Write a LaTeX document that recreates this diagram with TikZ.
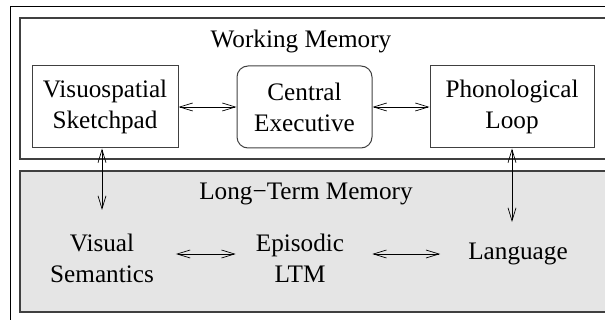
\documentclass[tikz,border=0pt]{standalone}
\usepackage{fontspec}
\setmainfont{Liberation Serif}
\usetikzlibrary{arrows.meta}
\begin{document}
\begin{tikzpicture}[x=1pt,y=-1pt,
  lbl/.style={font=\fontsize{25.2}{31}\selectfont, align=center, inner sep=0pt},
  wbox/.style={draw=black!75, line width=1pt, minimum height=82pt, inner sep=0pt, font=\fontsize{25.2}{31}\selectfont, align=center},
  frame/.style={draw=black!75, line width=1.2pt},
  arr/.style={{Straight Barb[length=13pt,width=8pt]}-{Straight Barb[length=13pt,width=8pt]}, line width=0.7pt, black}]
\useasboundingbox (0,0) rectangle (605,320);
\clip (0,0) rectangle (605,320);
\draw[black, line width=1pt] (10,7) rectangle (640,340);
\draw[frame] (20,18) rectangle (640,159);
\draw[frame, fill=black!10] (20,171) rectangle (640,312);
\node[lbl] (wm) at (301,41) {Working Memory};
\node[lbl] (ltm) at (306,194) {Long−Term Memory};
\node[wbox, minimum width=146pt] (vs) at (105,107) {Visuospatial\\Sketchpad};
\node[wbox, minimum width=135pt, rounded corners=11pt] (ce) at (304.5,107) {Central\\Executive};
\node[wbox, minimum width=164pt] (pl) at (512,107) {Phonological\\Loop};
\node[lbl] (vsem) at (102,258) {Visual\\Semantics};
\node[lbl] (epi) at (300,258) {Episodic\\LTM};
\node[lbl] (lang) at (518,254) {Language};
\coordinate (vsend) at (102,210);
\coordinate (plend) at (512,222);
\draw[arr] (vs.east) -- (ce.west);
\draw[arr] (ce.east) -- (pl.west);
\draw[arr] ([xshift=-3pt]vs.south) -- (vsend);
\draw[arr] (pl.south) -- (plend);
\draw[arr] ([xshift=22pt,yshift=4pt]vsem.east) -- ([xshift=-20pt,yshift=4pt]epi.west);
\draw[arr] ([xshift=28pt,yshift=4pt]epi.east) -- ([xshift=-28pt]lang.west);
\end{tikzpicture}
\end{document}
